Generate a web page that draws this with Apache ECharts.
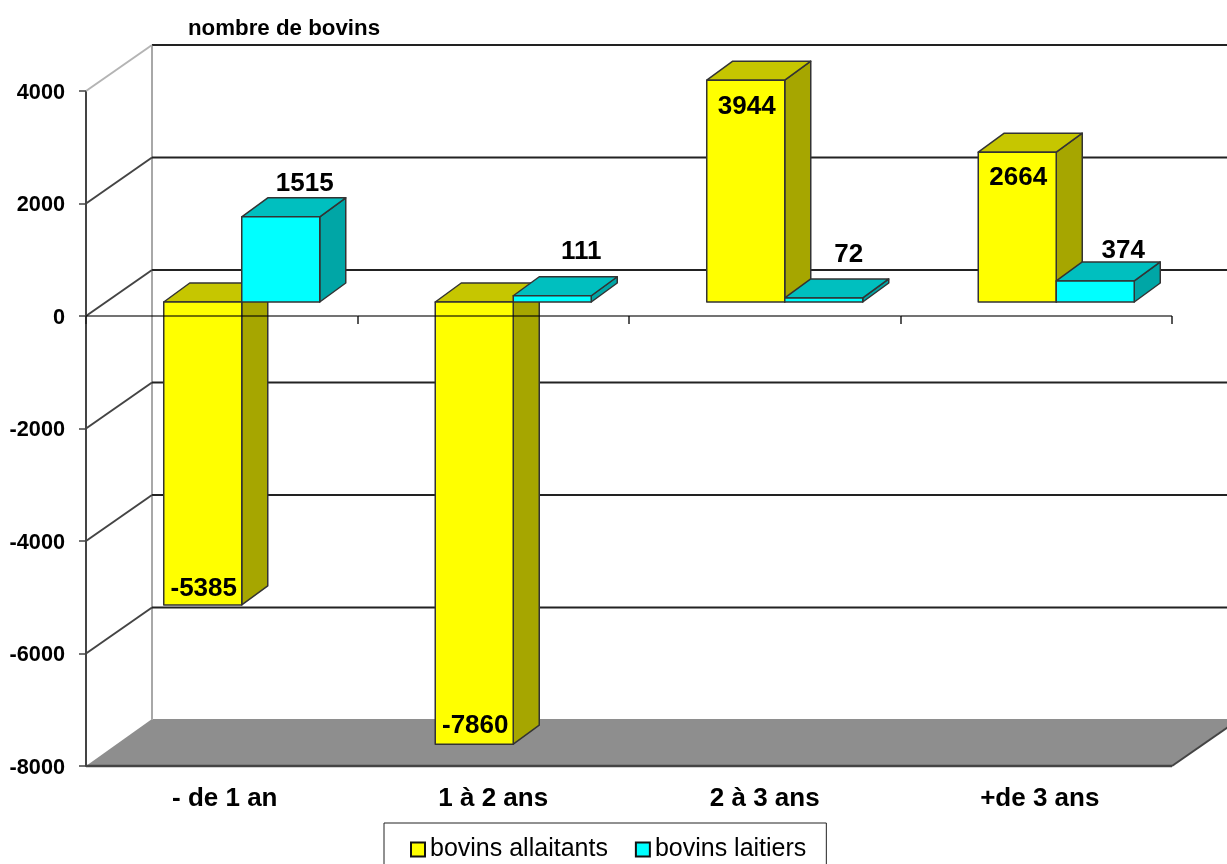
<!DOCTYPE html>
<html>
<head>
<meta charset="utf-8">
<style>html,body{margin:0;padding:0;background:#fff;overflow:hidden}#c{width:1227px;height:864px}</style>
<script src="https://cdn.jsdelivr.net/npm/echarts@6/dist/echarts.min.js"></script>
</head>
<body>
<div id="c"></div>
<script>
const categories = ['- de 1 an', '1 à 2 ans', '2 à 3 ans', '+de 3 ans'];
const allaitants = [-5385, -7860, 3944, 2664];
const laitiers = [1515, 111, 72, 374];
const yTicks = [-8000, -6000, -4000, -2000, 0, 2000, 4000];
const seriesNames = ['bovins allaitants', 'bovins laitiers'];
const yearTitle = 'nombre de bovins';

const FONT = '"Liberation Sans", Arial, sans-serif';
// oblique projection of the pseudo-3D chart
const WALL = [66, -46], BAR_SHIFT = [20, -14], BAR_DEPTH = [26, -19];
const BAR_RATIO = 0.2873;
const labelNudge = [
  [[1, -16], [1, -18], [1, 27], [1, 26]],
  [[24, -33], [29, -44], [25, -43], [28, -30]]
];
const xLabelStyle = ['shiftA', 'plain', 'plain', 'shiftB'];
const palette = [
  { front: '#ffff00', top: '#c6c600', side: '#a6a600' },
  { front: '#00ffff', top: '#00bfbf', side: '#00a6a6' }
];
const EDGE = { stroke: '#333', lineWidth: 1.5, lineJoin: 'round' };
const X_LABEL = { color: '#000', fontFamily: FONT, fontWeight: 'bold', fontSize: 26 };

function barRenderer(idx) {
  return function (params, api) {
    const cat = api.value(0), val = api.value(1);
    const p0 = api.coord([cat, 0]), p1 = api.coord([cat, val]);
    const band = api.size([1, 0])[0];
    const w = band * BAR_RATIO;
    const xa = p0[0] + BAR_SHIFT[0] + (idx === 0 ? -w : 0);
    const xb = xa + w;
    const y0 = p0[1] + BAR_SHIFT[1], yv = p1[1] + BAR_SHIFT[1];
    const dx = BAR_DEPTH[0], dy = BAR_DEPTH[1];
    const yt = Math.min(y0, yv), yb = Math.max(y0, yv);
    const c = palette[idx], nudge = labelNudge[idx][cat];
    const refY = val < 0 ? yb : yt;
    const children = [
      { type: 'polygon', shape: { points: [[xb, yt], [xb + dx, yt + dy], [xb + dx, yb + dy], [xb, yb]] }, style: Object.assign({ fill: c.side }, EDGE) },
      { type: 'polygon', shape: { points: [[xa, yt], [xa + dx, yt + dy], [xb + dx, yt + dy], [xb, yt]] }, style: Object.assign({ fill: c.top }, EDGE) },
      { type: 'rect', shape: { x: xa, y: yt, width: w, height: yb - yt }, style: Object.assign({ fill: c.front }, EDGE) },
      { type: 'text', z2: 50, style: { x: (xa + xb) / 2 + nudge[0], y: refY + nudge[1], text: String(val), fill: '#000', font: 'bold 26px ' + FONT, align: 'center', verticalAlign: 'middle' } }
    ];
    if (idx === 1) {
      // the category axis line shows through the bars: drawn last, one band at a time
      children.push({ type: 'line', z2: 40, shape: { x1: p0[0] - band / 2, y1: p0[1], x2: p0[0] + band / 2, y2: p0[1] }, style: { stroke: 'rgba(0,0,0,0.55)', lineWidth: 2 } });
    }
    return { type: 'group', children };
  };
}

function frameRenderer(params, api) {
  const t = api.value(0);
  const cs = params.coordSys;
  const y = api.coord([0, t])[1];
  const L = cs.x, R = cs.x + cs.width;
  const kids = [];
  if (t === yTicks[0]) {
    kids.push({ type: 'polygon', z2: 1, shape: { points: [[L, y], [L + WALL[0], y + WALL[1] - 1], [R + WALL[0], y + WALL[1] - 1], [R, y]] }, style: { fill: '#8e8e8e' } });
    kids.push({ type: 'line', z2: 3, shape: { x1: L, y1: y, x2: R, y2: y }, style: { stroke: '#444', lineWidth: 2.5 } });
    kids.push({ type: 'line', z2: 3, shape: { x1: R, y1: y, x2: R + WALL[0], y2: y + WALL[1] }, style: { stroke: '#444', lineWidth: 2 } });
    kids.push({ type: 'line', z2: 2, shape: { x1: L + WALL[0], y1: y + WALL[1], x2: L + WALL[0], y2: cs.y + WALL[1] }, style: { stroke: '#a8a8a8', lineWidth: 2 } });
  } else {
    kids.push({ type: 'line', z2: 3, shape: { x1: L + WALL[0], y1: y + WALL[1], x2: R + WALL[0], y2: y + WALL[1] }, style: { stroke: '#222', lineWidth: 2 } });
    kids.push({ type: 'line', z2: 3, shape: { x1: L, y1: y, x2: L + WALL[0], y2: y + WALL[1] }, style: { stroke: t === yTicks[yTicks.length - 1] ? '#b4b4b4' : '#444', lineWidth: 2 } });
  }
  return { type: 'group', children: kids };
}

const chart = echarts.init(document.getElementById('c'), null, { renderer: 'canvas' });
chart.setOption({
  animation: false,
  backgroundColor: '#fff',
  textStyle: { fontFamily: FONT },
  title: {
    text: yearTitle, left: 188, top: 18, padding: 0,
    textStyle: { fontFamily: FONT, fontWeight: 'bold', fontSize: 22.3, color: '#000' }
  },
  legend: {
    left: 384, top: 823, orient: 'horizontal',
    padding: [14, 20, 10, 26],
    itemWidth: 14, itemHeight: 14, itemGap: 27,
    backgroundColor: '#fff', borderColor: '#222', borderWidth: 1, borderRadius: 0,
    textStyle: { fontFamily: FONT, fontSize: 25, color: '#000', padding: 0 },
    data: seriesNames.map((n, i) => ({ name: n, icon: 'rect', itemStyle: { color: palette[i].front, borderColor: '#111', borderWidth: 2 } }))
  },
  grid: { left: 86, right: 55, top: 91, bottom: 98, containLabel: false },
  xAxis: [
    {
      type: 'category', data: categories, position: 'bottom',
      axisLine: { show: false, onZero: false }, axisTick: { show: false },
      axisLabel: {
        show: true, interval: 0, margin: 20, color: '#000', fontFamily: FONT, fontWeight: 'bold', fontSize: 26,
        formatter: (v, i) => '{' + xLabelStyle[i] + '|' + v + '}',
        rich: {
          plain: X_LABEL,
          shiftA: Object.assign({ padding: [0, 0, 0, 6] }, X_LABEL),
          shiftB: Object.assign({ padding: [0, 0, 0, 7] }, X_LABEL)
        }
      },
      splitLine: { show: false }
    },
    {
      type: 'category', data: categories, position: 'bottom',
      axisLine: { show: false, onZero: true },
      axisTick: { show: true, length: 8, lineStyle: { color: '#222', width: 1.5 } },
      axisLabel: { show: false }, splitLine: { show: false }
    }
  ],
  yAxis: {
    type: 'value', min: -8000, max: 4000, interval: 2000,
    axisLine: { show: true, lineStyle: { color: '#444', width: 2 } },
    axisTick: { show: true, length: 7, lineStyle: { color: '#444', width: 1.5 } },
    axisLabel: {
      margin: 21, color: '#000', fontFamily: FONT, fontWeight: 'bold', fontSize: 21.7,
      formatter: v => '{t|' + v + '}',
      rich: { t: { padding: [4, 0, 0, 0], color: '#000', fontFamily: FONT, fontWeight: 'bold', fontSize: 21.7 } }
    },
    splitLine: { show: false }
  },
  series: [
    { type: 'custom', name: 'frame', silent: true, z: 1, renderItem: frameRenderer, data: yTicks.map(t => [t]), encode: { y: 0 } },
    { type: 'custom', name: seriesNames[0], z: 3, renderItem: barRenderer(0), itemStyle: { color: palette[0].front }, data: allaitants.map((v, i) => [i, v]), encode: { x: 0, y: 1 } },
    { type: 'custom', name: seriesNames[1], z: 3, renderItem: barRenderer(1), itemStyle: { color: palette[1].front }, data: laitiers.map((v, i) => [i, v]), encode: { x: 0, y: 1 } }
  ]
});
</script>
</body>
</html>
